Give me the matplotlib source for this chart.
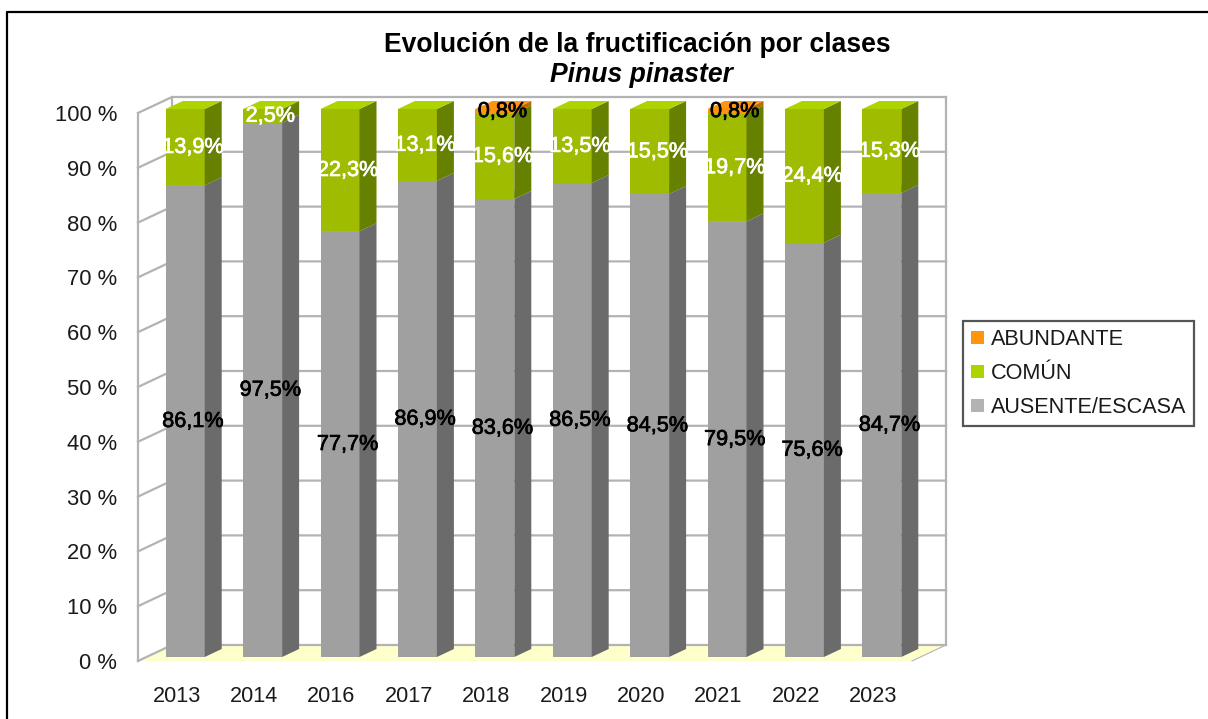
import matplotlib
matplotlib.use("Agg")
import matplotlib.pyplot as plt
import matplotlib.patheffects as pe
from matplotlib.lines import Line2D
from matplotlib.patches import Polygon, Patch

plt.rcParams['font.family'] = ['Liberation Sans', 'DejaVu Sans']

years = ['2013', '2014', '2016', '2017', '2018', '2019', '2020', '2021', '2022', '2023']
ausente = [86.1, 97.5, 77.7, 86.9, 83.6, 86.5, 84.5, 79.5, 75.6, 84.7]
comun = [13.9, 2.5, 22.3, 13.1, 15.6, 13.5, 15.5, 19.7, 24.4, 15.3]
abundante = [0, 0, 0, 0, 0.8, 0, 0, 0.8, 0, 0]
y_ticks = [0, 10, 20, 30, 40, 50, 60, 70, 80, 90, 100]

W, H = 1208, 719
L, R, T, B = 138, 912, 113, 661

# oblique depth of the fake 3d box, in data units
DX = 34 / ((R - L) / 10)
DY = 16 / ((B - T) / 100)
BAR_W = 39 / ((R - L) / 10)
D0, D1 = 0.25, 0.75

fig = plt.figure(figsize=(W / 100, H / 100), dpi=100)
# outer frame, only top and left show in the crop
fig.add_artist(Line2D([7.5 / W, 7.5 / W, 1], [0, 1 - 12 / H, 1 - 12 / H], color='black', lw=1.6))
ax = fig.add_axes([L / W, 1 - B / H, (R - L) / W, (B - T) / H])
ax.set_xlim(-0.5, 9.5)
ax.set_ylim(0, 100)
ax.patch.set_visible(False)
for s in ax.spines.values():
  s.set_visible(False)

GRID = '#b3b3b3'

def poly(pts, fc, ec='none', z=3):
  ax.add_patch(Polygon(pts, closed=True, fc=fc, ec=ec, lw=0.5, zorder=z, clip_on=False))

# floor and walls
poly([(-0.5, 0), (9.5, 0), (9.5 + DX, DY), (-0.5 + DX, DY)], '#ffffcc', z=1)
for t in y_ticks:
  ax.plot([-0.5, -0.5 + DX, 9.5 + DX], [t, t + DY, t + DY], color=GRID, lw=1.6, zorder=2, clip_on=False)
ax.plot([-0.5, -0.5], [0, 100], color=GRID, lw=1.6, zorder=2, clip_on=False)
ax.plot([-0.5 + DX, -0.5 + DX], [DY, 100 + DY], color=GRID, lw=1.6, zorder=2, clip_on=False)
ax.plot([9.5 + DX, 9.5 + DX], [DY, 100 + DY], color=GRID, lw=1.6, zorder=2, clip_on=False)
ax.plot([9.5, 9.5 + DX], [0, DY], color=GRID, lw=0.8, zorder=2, clip_on=False)

series = [(ausente, '#a0a0a0', '#6b6b6b', '#b3b3b3', 'black'),
          (comun, '#9fbc00', '#668000', '#aed400', 'white'),
          (abundante, '#ff950e', '#b86a08', '#ff950e', 'black')]

for i in range(len(years)):
  bottom = 0
  for values, front, side, top, txt in series:
    v = values[i]
    if v == 0:
      continue
    x0 = i + D0 * DX - BAR_W / 2
    x1 = x0 + BAR_W
    y0 = bottom + D0 * DY
    y1 = y0 + v
    ddx = (D1 - D0) * DX
    ddy = (D1 - D0) * DY
    ax.bar(x0 + BAR_W / 2, v, width=BAR_W, bottom=y0, color=front, zorder=3, clip_on=False)
    poly([(x1, y0), (x1 + ddx, y0 + ddy), (x1 + ddx, y1 + ddy), (x1, y1)], side)
    poly([(x0, y1), (x1, y1), (x1 + ddx, y1 + ddy), (x0 + ddx, y1 + ddy)], top)
    bottom += v

# labels go above every bar
for i in range(len(years)):
  bottom = 0
  for values, front, side, top, txt in series:
    v = values[i]
    if v == 0:
      continue
    label = ('%.1f%%' % v).replace('.', ',')
    ax.text(i + 0.5 * DX - 0.01, bottom + v / 2 + 0.5 * DY - 0.8, label, color=txt, fontsize=15.6,
            ha='center', va='center', zorder=5, clip_on=False,
            path_effects=[pe.withStroke(linewidth=0.5, foreground=txt)])
    bottom += v

ax.set_xticks(range(len(years)))
ax.set_xticklabels(years)
ax.set_yticks(y_ticks)
ax.set_yticklabels(['%d %%' % t for t in y_ticks])
ax.tick_params(axis='x', length=0, pad=18, labelsize=15.6, labelcolor='#1a1a1a')
ax.tick_params(axis='y', length=0, pad=15, labelsize=15.8, labelcolor='#1a1a1a')

fig.text(637 / W, 1 - 45 / H, 'Evolución de la fructificación por clases', fontsize=19.1,
         fontweight='bold', ha='center', va='center')
fig.text(641 / W, 1 - 75 / H, 'Pinus pinaster', fontsize=19.1, fontweight='bold',
         fontstyle='italic', ha='center', va='center')

handles = [Patch(fc='#ff950e', label='ABUNDANTE'),
           Patch(fc='#aed400', label='COMÚN'),
           Patch(fc='#b3b3b3', label='AUSENTE/ESCASA')]
leg = fig.legend(handles=handles, loc='upper left', bbox_to_anchor=(963 / W, 1 - 321 / H),
                 borderaxespad=0, fontsize=15.6, handlelength=0.6, handleheight=0.6,
                 handletextpad=0.32, labelspacing=0.6, borderpad=0.37, fancybox=False,
                 framealpha=1, edgecolor='#555555')
leg.get_frame().set_linewidth(1.6)
for t in leg.get_texts():
  t.set_color('#1a1a1a')

fig.savefig('out.png', dpi=100)
